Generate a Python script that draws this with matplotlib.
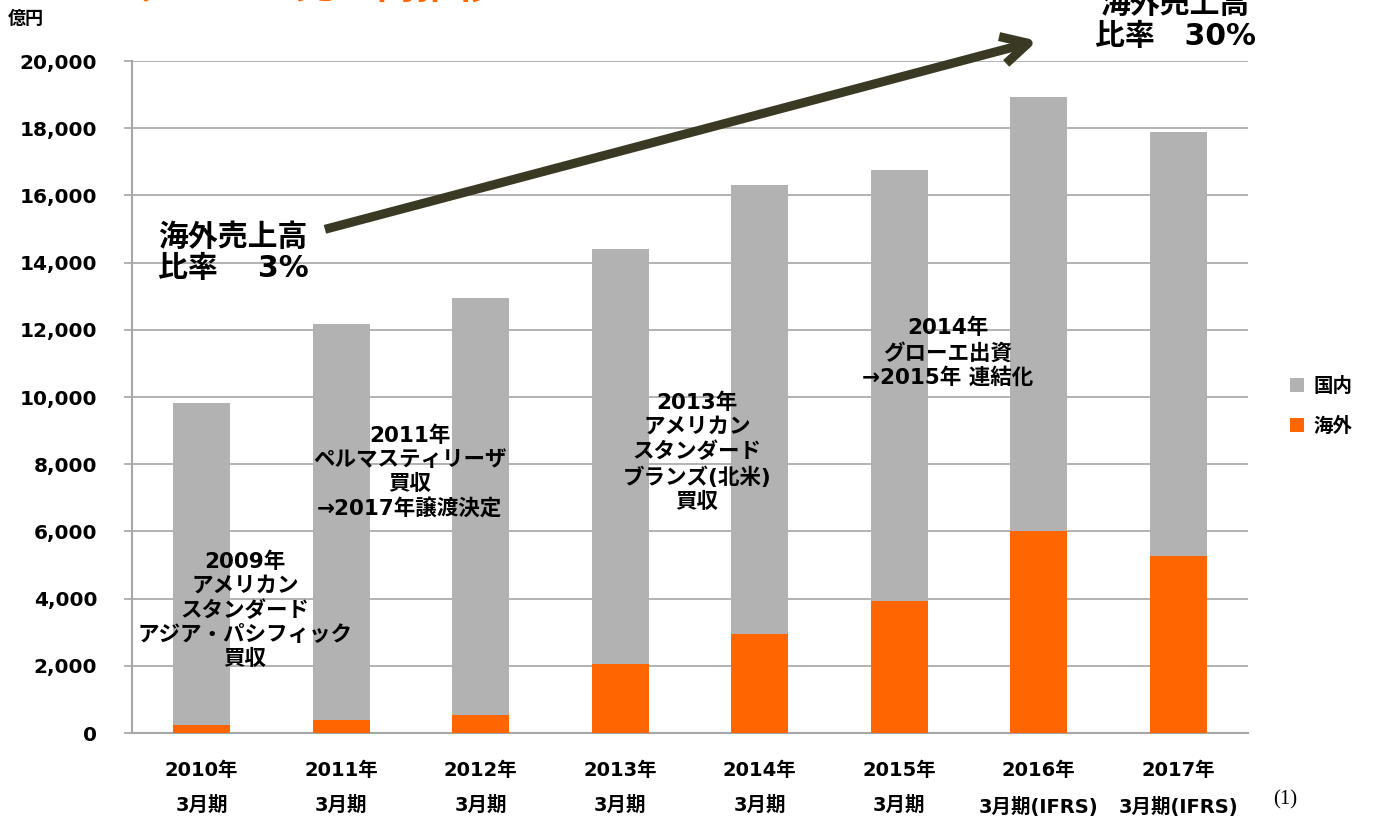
import numpy as np
import matplotlib.pyplot as plt

plt.rcParams['font.family'] = ['DejaVu Sans', 'Noto Sans CJK JP']

# data (億円)
years = ['2010年', '2011年', '2012年', '2013年', '2014年', '2015年', '2016年', '2017年']
periods = ['3月期', '3月期', '3月期', '3月期', '3月期', '3月期', '3月期(IFRS)', '3月期(IFRS)']
total = [9820, 12170, 12950, 14400, 16310, 16760, 18930, 17890]
overseas = [240, 390, 540, 2050, 2950, 3930, 6010, 5270]
domestic = [t - o for t, o in zip(total, overseas)]

notes = [
    (0.31, 3660, '2009年\nアメリカン\nスタンダード\nアジア・パシフィック\n買収'),
    (1.49, 7770, '2011年\nペルマスティリーザ\n買収\n→2017年譲渡決定'),
    (3.55, 8360, '2013年\nアメリカン\nスタンダード\nブランズ(北米)\n買収'),
    (5.35, 11310, '2014年\nグローエ出資\n→2015年 連結化'),
]

grey = '#b2b2b2'
orange = '#ff6600'

fig = plt.figure(figsize=(13.73, 8.16), dpi=100)
ax = fig.add_axes([0.0961, 0.1017, 0.8129, 0.8235])

x = np.arange(len(years))
ax.bar(x, overseas, width=0.41, color=orange, label='海外', zorder=3)
ax.bar(x, domestic, width=0.41, bottom=overseas, color=grey, label='国内', zorder=3)

ax.set_xlim(-0.5, len(years) - 0.5)
ax.set_ylim(0, 20000)
ax.set_yticks(range(0, 20001, 2000))
ax.set_yticklabels([f'{v:,}' for v in range(0, 20001, 2000)], fontsize=14.5, fontweight='bold')
ax.yaxis.grid(True, color='#a6a6a6', linewidth=1.2, zorder=0)

ax.set_xticks(x)
ax.set_xticklabels([f'{y}\n{p}' for y, p in zip(years, periods)],
                   fontsize=14, fontweight='bold', linespacing=2.05)
ax.tick_params(axis='x', length=0, pad=20)
ax.tick_params(axis='y', length=6, color='#a6a6a6', width=1.2, pad=19)

for s in ['top', 'right']:
    ax.spines[s].set_visible(False)
for s in ['left', 'bottom']:
    ax.spines[s].set_color('#a6a6a6')
    ax.spines[s].set_linewidth(1.5)

for nx, ny, txt in notes:
    ax.text(nx, ny, txt, ha='center', va='center', fontsize=15.5,
            fontweight='bold', linespacing=1.25, zorder=5)

# trend arrow
ax.annotate('', xy=(6.01, 20625), xytext=(0.864, 14970),
            arrowprops=dict(arrowstyle='->,head_length=1.9,head_width=1.0',
                            color='#3a3a24', lw=6.5, capstyle='butt'),
            annotation_clip=False, zorder=6)
ax.text(-0.31, 14290, '海外売上高\n比率　 3%', ha='left', va='center', fontsize=21.5,
        fontweight='bold', linespacing=1.1)
fig.text(0.856, 0.975, '海外売上高\n比率　30%', ha='center', va='center', fontsize=21.5,
         fontweight='bold', linespacing=1.1)

# cut-off title
fig.text(0.098, 1.016, 'グループ売上高推移', ha='left', va='center', fontsize=29,
         fontweight='bold', color=orange)

fig.text(0.006, 0.977, '億円', ha='left', va='center', fontsize=13, fontweight='bold')
fig.text(0.936, 0.0196, '(1)', ha='center', va='center', fontsize=15,
         family=['Liberation Serif', 'DejaVu Serif'])

# legend
h, l = ax.get_legend_handles_labels()
fig.legend(h[::-1], l[::-1], loc='center left', bbox_to_anchor=(0.927, 0.502),
           frameon=False, prop={'weight': 'bold', 'size': 14},
           handlelength=0.7, handleheight=0.7, handletextpad=0.5, labelspacing=1.1)

fig.savefig('out.png', dpi=100)
